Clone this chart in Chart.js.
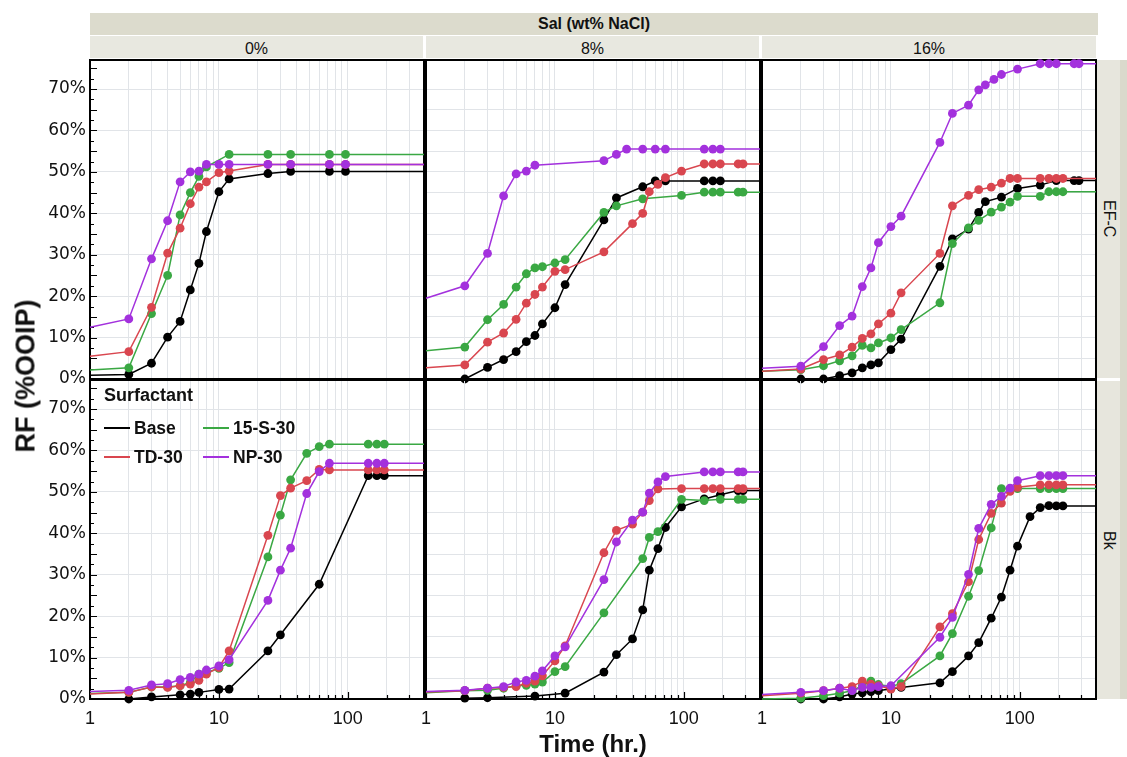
<!DOCTYPE html>
<html>
<head>
<meta charset="utf-8">
<title>RF (%OOIP) vs Time</title>
<script src="https://cdn.jsdelivr.net/npm/chart.js@4.4.1/dist/chart.umd.min.js"></script>
<style>
  html, body { margin: 0; padding: 0; background: #fff; }
  #figure { position: relative; width: 1127px; height: 757px; overflow: hidden;
            font-family: "Liberation Sans", Arial, sans-serif; color: #111; }
  #figure canvas { position: absolute; }
  .band { position: absolute; display: flex; align-items: center; justify-content: center; }
  .top-band { left: 90px; top: 13px; width: 1008px; height: 22px; background: #dcdbcd;
              font-weight: bold; font-size: 16px; }
  .col-strip { top: 36px; height: 22px; background: #e8e8e0; font-size: 16px; padding-top: 3px; box-sizing: border-box; }
  .row-strip { left: 1097px; width: 23px; background: #e7e6dd; font-size: 16px; writing-mode: vertical-rl; }
  .row-edge { position: absolute; left: 1120px; width: 7px; top: 60px; height: 639px; background: #dad9cc; }
  .y-title { position: absolute; left: 26px; top: 376px; transform: translate(-50%, -50%) rotate(-90deg);
             font-weight: bold; font-size: 27px; white-space: nowrap; }
  .x-title { position: absolute; left: 593px; top: 744px; transform: translate(-50%, -50%);
             font-weight: bold; font-size: 24px; white-space: nowrap; }
  .lg { position: absolute; font-weight: bold; font-size: 17.5px; line-height: 20px; white-space: nowrap; }
  .lg-title { font-size: 18px; }
  .lg-line { position: absolute; height: 2px; width: 26px; }
</style>
</head>
<body>
<div id="figure"></div>
<script>
// ---- facets and series ----
const salinities = ['0%', '8%', '16%'];
const rocks = ['EF-C', 'Bk'];
const surfactants = ['Base', 'TD-30', '15-S-30', 'NP-30'];
const seriesColors = ['#000000', '#d9464f', '#3aa843', '#a331dd'];
const xTickLabels = [1, 10, 100];
const yTickStep = 10;

// ---- recovery factor (%OOIP) vs time (hr), [time, RF] ----
// EF-C, 0 wt% NaCl
const efc0_base = [[1,0.9],[2,1.1],[3,3.8],[4,10.1],[5,13.9],[6,21.5],[7,27.9],[8,35.6],[10,45.2],[12,48.3],[24,49.6],[36,50.1],[72,50.1],[96,50.1]];
const efc0_td   = [[1,5.5],[2,6.6],[3,17.3],[4,30.4],[5,36.4],[6,42.3],[7,46.3],[8,47.6],[10,49.8],[12,50.2],[24,51.8],[36,51.8],[72,51.8],[96,51.8]];
const efc0_15s  = [[1,2.2],[2,2.7],[3,15.8],[4,25.0],[5,39.6],[6,45.0],[7,48.9],[8,51.2],[12,54.2],[24,54.2],[36,54.2],[72,54.2],[96,54.2]];
const efc0_np   = [[1,12.5],[2,14.5],[3,29.0],[4,38.2],[5,47.6],[6,50.0],[7,50.2],[8,51.8],[10,51.8],[12,51.8],[24,51.8],[36,51.8],[72,51.8],[96,51.8]];
// EF-C, 8 wt% NaCl
const efc8_base = [[2,0],[3,2.8],[4,4.7],[5,6.6],[6,9.0],[7,10.5],[8,13.3],[10,17.2],[12,22.8],[24,38.4],[30,43.7],[48,46.4],[60,47.8],[72,47.8],[144,47.8],[168,47.8],[192,47.8]];
const efc8_td   = [[1,2.7],[2,3.4],[3,8.9],[4,11.1],[5,14.4],[6,18.3],[7,20.4],[8,22.2],[10,26.0],[12,26.4],[24,30.7],[40,37.5],[48,40.0],[54,45.2],[63,47.0],[72,48.6],[96,50.2],[144,51.9],[168,51.9],[192,51.9],[264,51.9],[288,51.9]];
const efc8_15s  = [[1,6.8],[2,7.7],[3,14.3],[4,18.0],[5,22.2],[6,25.4],[7,26.8],[8,27.1],[10,28.0],[12,28.8],[24,40.2],[30,41.8],[48,43.5],[96,44.3],[144,45.1],[168,45.1],[192,45.1],[264,45.1],[288,45.1]];
const efc8_np   = [[1,19.5],[2,22.5],[3,30.3],[4,44.2],[5,49.5],[6,50.2],[7,51.6],[24,52.7],[30,54.2],[36,55.5],[48,55.5],[60,55.5],[72,55.5],[144,55.5],[168,55.5],[192,55.5]];
// EF-C, 16 wt% NaCl
const efc16_base = [[2,0],[3,0],[4,0.8],[5,1.5],[6,2.7],[7,3.4],[8,3.9],[10,7.1],[12,9.6],[24,27.2],[30,33.8],[40,36.2],[48,40.2],[54,42.8],[72,43.9],[96,46.0],[144,46.8],[192,47.9],[264,47.9],[288,47.9]];
const efc16_td   = [[1,1.9],[2,2.4],[3,4.7],[4,5.8],[5,7.7],[6,9.8],[7,10.9],[8,13.3],[10,15.9],[12,20.8],[24,30.3],[30,41.8],[40,44.3],[48,45.7],[60,46.3],[72,47.3],[84,48.4],[96,48.4],[144,48.4],[168,48.4],[192,48.4],[216,48.4]];
const efc16_15s  = [[1,1.9],[2,2.25],[3,3.2],[4,4.4],[5,5.6],[6,8.1],[7,7.5],[8,8.7],[10,9.9],[12,11.9],[24,18.4],[30,32.7],[40,36.5],[48,38.3],[60,40.3],[72,41.5],[84,42.7],[96,44.1],[144,44.1],[168,45.2],[192,45.2],[216,45.2]];
const efc16_np   = [[1,2.6],[2,3.1],[3,7.8],[4,12.9],[5,15.2],[6,22.3],[7,26.8],[8,32.9],[10,36.8],[12,39.3],[24,57.1],[30,64.1],[40,66.1],[48,69.8],[54,71.0],[63,72.3],[72,73.5],[96,74.8],[144,76.1],[168,76.1],[192,76.1],[264,76.1],[288,76.1]];
// Bk, 0 wt% NaCl
const bk0_base = [[2,0],[3,0.5],[5,1.0],[6,1.2],[7,1.6],[10,2.3],[12,2.4],[24,11.6],[30,15.5],[60,27.7],[144,53.9],[168,53.9],[192,53.9]];
const bk0_td   = [[1,1.2],[2,1.6],[3,2.9],[4,2.8],[5,3.2],[6,3.6],[7,4.5],[8,6.0],[10,7.6],[12,11.6],[24,39.5],[30,49.1],[36,50.9],[48,52.7],[60,55.4],[72,55.3],[144,55.3],[168,55.3],[192,55.3]];
const bk0_15s  = [[1,1.3],[2,1.6],[3,2.9],[4,2.9],[5,3.2],[6,4.0],[7,6.0],[8,6.4],[10,7.4],[12,8.8],[24,34.3],[30,44.4],[36,52.9],[48,59.3],[60,60.9],[72,61.5],[144,61.5],[168,61.5],[192,61.5]];
const bk0_np   = [[1,1.8],[2,2.1],[3,3.4],[4,3.7],[5,4.7],[6,5.2],[7,6.0],[8,7.0],[10,8.0],[12,9.5],[24,23.8],[30,31.1],[36,36.4],[48,49.6],[60,54.9],[72,56.9],[144,56.9],[168,56.9],[192,56.9]];
// Bk, 8 wt% NaCl
const bk8_base = [[2,0.2],[3,0.3],[7,0.7],[12,1.4],[24,6.5],[30,10.7],[40,14.5],[48,21.5],[54,31.1],[63,36.3],[72,41.4],[96,46.4],[144,48.3],[192,49.3],[264,50.3],[288,50.3]];
const bk8_td   = [[1,1.7],[2,2.0],[3,2.6],[4,2.8],[5,3.0],[6,3.8],[7,4.3],[8,5.6],[10,9.2],[12,12.8],[24,35.3],[30,40.7],[40,42.2],[48,45.1],[54,47.9],[63,50.7],[96,50.8],[144,50.8],[168,50.8],[192,50.8],[264,50.8],[288,50.8]];
const bk8_15s  = [[1,1.5],[2,2.0],[3,2.1],[4,2.6],[5,3.2],[6,3.3],[7,3.6],[8,4.1],[10,6.6],[12,7.8],[24,20.8],[48,33.9],[54,39.0],[63,40.4],[96,48.2],[144,47.9],[192,48.2],[264,48.2],[288,48.2]];
const bk8_np   = [[1,1.8],[2,2.1],[3,2.6],[4,3.0],[5,4.1],[6,4.5],[7,5.5],[8,6.8],[10,10.4],[12,12.6],[24,28.8],[30,37.9],[40,43.2],[48,45.1],[54,49.7],[63,52.4],[72,53.7],[144,54.8],[168,54.8],[192,54.8],[264,54.8],[288,54.8]];
// Bk, 16 wt% NaCl
const bk16_base = [[2,0],[3,0],[4,0.5],[5,1.2],[6,1.5],[7,1.8],[8,2.0],[10,2.5],[12,2.8],[24,3.9],[30,6.6],[40,10.4],[48,13.6],[60,19.5],[72,24.6],[84,31.1],[96,36.9],[120,44.0],[144,46.2],[168,46.7],[192,46.6],[216,46.6]];
const bk16_td   = [[1,0.8],[2,1.4],[3,2.0],[4,2.6],[5,3.0],[6,4.3],[7,3.6],[8,3.2],[10,2.4],[12,3.0],[24,17.4],[30,20.6],[40,28.3],[48,38.5],[60,44.8],[72,47.3],[84,50.1],[96,51.1],[144,51.7],[168,51.7],[192,51.7],[216,51.7]];
const bk16_15s  = [[1,0],[2,0.2],[3,0.8],[4,1.4],[5,2.0],[6,3.2],[7,4.3],[8,3.5],[10,3.0],[12,3.7],[24,10.4],[30,15.8],[40,24.8],[48,31.0],[60,41.3],[72,50.8],[96,50.8],[144,50.8],[168,50.8],[192,50.8],[216,50.8]];
const bk16_np   = [[1,1.1],[2,1.6],[3,2.0],[4,2.6],[5,2.0],[6,2.8],[7,2.8],[8,3.0],[10,3.2],[24,14.9],[30,19.7],[40,30.1],[48,41.2],[60,47.0],[72,48.9],[84,50.9],[96,52.7],[144,53.9],[168,53.9],[192,53.9],[216,53.9]];

// panel grid: rows = rocks, columns = salinities; series in surfactants order
const panelTable = [
  [[efc0_base, efc0_td, efc0_15s, efc0_np], [efc8_base, efc8_td, efc8_15s, efc8_np], [efc16_base, efc16_td, efc16_15s, efc16_np]],
  [[bk0_base, bk0_td, bk0_15s, bk0_np],     [bk8_base, bk8_td, bk8_15s, bk8_np],     [bk16_base, bk16_td, bk16_15s, bk16_np]]
];

// ---- layout ----
const X_MIN = 1, X_MAX = 390, Y_MIN = 0, Y_MAX = 77;
const colLeft = [90, 426, 762], panelW = 334;
const rowTop = [60, 380], panelH = 319;
const yAxisW = 90, xAxisH = 32, M = 6;
// series drawn last sits on top
const drawOrder = [3, 1, 2, 0];

const fig = document.getElementById('figure');

function logTicks() {
  const out = [];
  for (let p = 1; p <= X_MAX; p *= 10)
    for (let d = 1; d <= 9; d++) { const v = d * p; if (v >= X_MIN && v <= X_MAX) out.push(v); }
  return out;
}

const framePlugin = {
  id: 'frame',
  beforeDatasetsDraw(chart, args, opts) {
    const { ctx, chartArea: a, scales } = chart;
    ctx.save();
    ctx.strokeStyle = '#000';
    ctx.lineWidth = 1.2;
    ctx.beginPath();
    if (opts.yTicks) {
      for (let v = Y_MIN; v <= Y_MAX; v += 2.5) {
        const y = Math.round(scales.y.getPixelForValue(v)) + 0.5;
        const len = (v % 5 === 0) ? 7 : 4;
        ctx.moveTo(a.left, y); ctx.lineTo(a.left + len, y);
      }
    }
    if (opts.xTicks) {
      logTicks().forEach(v => {
        const x = Math.round(scales.x.getPixelForValue(v)) + 0.5;
        const len = xTickLabels.includes(v) ? 7 : 4;
        ctx.moveTo(x, a.bottom); ctx.lineTo(x, a.bottom - len);
      });
    }
    ctx.stroke();
    ctx.lineWidth = opts.border || 2;
    ctx.strokeRect(a.left, a.top, a.right - a.left, a.bottom - a.top);
    ctx.restore();
  }
};

function makePanel(r, c) {
  const yw = c === 0 ? yAxisW : 0;
  const xh = r === 1 ? xAxisH : 0;
  const cv = document.createElement('canvas');
  const w = panelW + yw + 2 * M, h = panelH + xh + 2 * M;
  cv.width = w; cv.height = h;
  cv.style.left = (colLeft[c] - yw - M) + 'px';
  cv.style.top = (rowTop[r] - M) + 'px';
  cv.style.width = w + 'px'; cv.style.height = h + 'px';
  fig.appendChild(cv);

  const datasets = panelTable[r][c].map((pts, i) => {
    const data = pts.map(([x, y]) => ({ x, y }));
    // carry the last reading to the right edge of the axis
    data.push({ x: X_MAX, y: pts[pts.length - 1][1] });
    return {
      label: surfactants[i],
      data,
      order: drawOrder[i],
      borderColor: seriesColors[i],
      backgroundColor: seriesColors[i],
      borderWidth: 1.5,
      pointRadius: ctx => (ctx.raw && (ctx.raw.x <= X_MIN || ctx.raw.x >= X_MAX)) ? 0 : 4.4,
      pointHoverRadius: 0,
      pointBorderWidth: 0,
      tension: 0,
      clip: 8
    };
  });

  return new Chart(cv, {
    type: 'line',
    data: { datasets },
    plugins: [framePlugin],
    options: {
      responsive: false,
      animation: false,
      devicePixelRatio: 1,
      layout: { padding: M },
      events: [],
      plugins: {
        legend: { display: false },
        tooltip: { enabled: false },
        frame: { yTicks: c === 0, xTicks: r === 1, border: 2 }
      },
      scales: {
        x: {
          type: 'logarithmic',
          min: X_MIN, max: X_MAX,
          afterBuildTicks: s => { s.ticks = logTicks().map(v => ({ value: v })); },
          afterFit: s => { s.height = xh; s.paddingLeft = 0; s.paddingRight = 0; },
          grid: { color: '#e1e4e8', lineWidth: 1, drawTicks: false },
          border: { display: false },
          ticks: {
            display: r === 1,
            autoSkip: false, maxRotation: 0, padding: 9,
            color: '#111',
            font: { family: '"Liberation Sans", Arial, sans-serif', size: 18 },
            callback: v => xTickLabels.includes(v) ? String(v) : ''
          }
        },
        y: {
          type: 'linear',
          min: Y_MIN, max: Y_MAX,
          afterFit: s => { s.width = yw; s.paddingTop = 0; s.paddingBottom = 0; },
          grid: { color: '#e1e4e8', lineWidth: 1, drawTicks: false },
          border: { display: false },
          ticks: {
            display: c === 0,
            stepSize: 5, padding: 4,
            color: '#111',
            font: { family: '"DejaVu Sans", sans-serif', size: 17 },
            callback: v => (v % yTickStep === 0) ? v + '%' : ''
          }
        }
      }
    }
  });
}

// ---- facet strips ----
function addDiv(cls, text, style) {
  const d = document.createElement('div');
  d.className = cls;
  if (text) d.textContent = text;
  Object.assign(d.style, style || {});
  fig.appendChild(d);
  return d;
}
addDiv('band top-band', 'Sal (wt% NaCl)');
salinities.forEach((s, c) => addDiv('band col-strip', s, { left: colLeft[c] + 'px', width: (panelW - (c < 2 ? 1 : 0)) + 'px' }));
addDiv('row-edge');
rocks.forEach((rk, r) => addDiv('band row-strip', rk, { top: (rowTop[r] + (r ? 1 : 0)) + 'px', height: (panelH - 1) + 'px' }));

// ---- panels ----
for (let r = 0; r < rocks.length; r++)
  for (let c = 0; c < salinities.length; c++) makePanel(r, c);

// ---- axis titles ----
addDiv('y-title', 'RF (%OOIP)');
addDiv('x-title', 'Time (hr.)');

// ---- legend (inside the Bk / 0% panel) ----
addDiv('lg lg-title', 'Surfactant', { left: '104px', top: '385px' });
const legendSlots = [[0, 0], [1, 0], [0, 1], [1, 1]]; // [row, col] for Base, TD-30, 15-S-30, NP-30
surfactants.forEach((name, i) => {
  const [lr, lc] = legendSlots[i];
  const x = 104 + lc * 99, yc = 428 + lr * 29;
  addDiv('lg-line', null, { left: x + 'px', top: (yc - 1) + 'px', background: seriesColors[i] });
  addDiv('lg', name, { left: (x + 30) + 'px', top: (yc - 10) + 'px' });
});
</script>
</body>
</html>
